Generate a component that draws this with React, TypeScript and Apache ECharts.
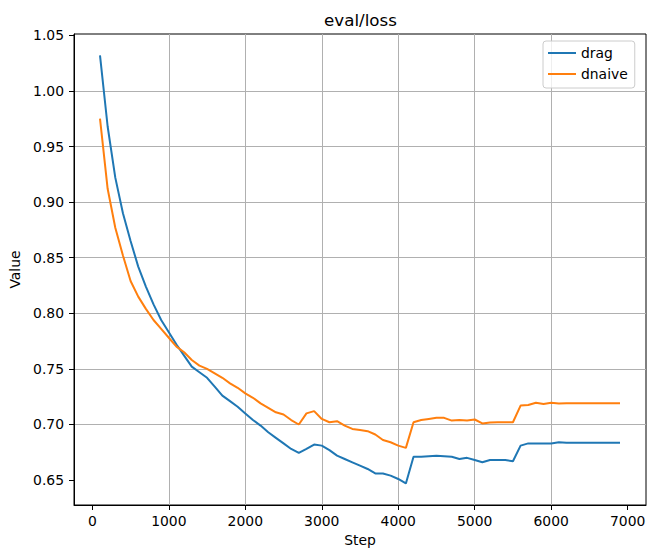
import React, { useEffect, useRef } from "react";
import * as echarts from "echarts";

const steps = [
  100, 200, 300, 400, 500, 600, 700, 800, 900, 1000,
  1100, 1200, 1300, 1400, 1500, 1600, 1700, 1800, 1900, 2000,
  2100, 2200, 2300, 2400, 2500, 2600, 2700, 2800, 2900, 3000,
  3100, 3200, 3300, 3400, 3500, 3600, 3700, 3800, 3900, 4000,
  4100, 4200, 4300, 4400, 4500, 4600, 4700, 4800, 4900, 5000,
  5100, 5200, 5300, 5400, 5500, 5600, 5700, 5800, 5900, 6000,
  6100, 6200, 6300, 6400, 6500, 6600, 6700, 6800, 6900,
];

const drag = [
  1.032, 0.968, 0.922, 0.890, 0.865, 0.842, 0.824, 0.808, 0.794, 0.783,
  0.772, 0.762, 0.752, 0.747, 0.742, 0.734, 0.726, 0.721, 0.716, 0.710,
  0.704, 0.699, 0.693, 0.688, 0.683, 0.678, 0.6745, 0.678, 0.682, 0.681,
  0.677, 0.672, 0.669, 0.666, 0.663, 0.660, 0.656, 0.656, 0.654, 0.651,
  0.647, 0.671, 0.671, 0.6715, 0.672, 0.6715, 0.671, 0.669, 0.670, 0.668,
  0.666, 0.668, 0.668, 0.668, 0.667, 0.681, 0.683, 0.683, 0.683, 0.683,
  0.684, 0.6835, 0.6835, 0.6835, 0.6835, 0.6835, 0.6835, 0.6835, 0.6835,
];

const dnaive = [
  0.975, 0.912, 0.877, 0.852, 0.829, 0.815, 0.804, 0.794, 0.786, 0.778,
  0.770, 0.765, 0.758, 0.753, 0.750, 0.746, 0.742, 0.737, 0.733, 0.728,
  0.724, 0.719, 0.715, 0.711, 0.709, 0.704, 0.700, 0.710, 0.712, 0.705,
  0.702, 0.703, 0.699, 0.696, 0.695, 0.694, 0.691, 0.686, 0.684, 0.681,
  0.679, 0.702, 0.704, 0.705, 0.706, 0.706, 0.7035, 0.704, 0.7035, 0.7045,
  0.701, 0.7018, 0.702, 0.702, 0.702, 0.717, 0.7175, 0.7195, 0.7185, 0.7195,
  0.7188, 0.719, 0.719, 0.719, 0.719, 0.719, 0.719, 0.719, 0.719,
];

const xTicks = [0, 1000, 2000, 3000, 4000, 5000, 6000, 7000];
const yTicks = [0.65, 0.7, 0.75, 0.8, 0.85, 0.9, 0.95, 1.0, 1.05];

const FONT = "DejaVu Sans";

export default function App() {
  const ref = useRef<HTMLDivElement>(null);
  useEffect(() => {
    if (!ref.current) return;
    const chart = echarts.init(ref.current, null, { renderer: "svg" });
    const axisCommon = {
      axisLine: { show: true, onZero: false, lineStyle: { color: "#000", width: 1 } },
      axisTick: { show: true, inside: false, length: 5, lineStyle: { color: "#000", width: 1 } },
      splitLine: {
        show: true,
        showMinLine: false,
        showMaxLine: false,
        lineStyle: { color: "#b0b0b0", width: 1 },
      },
      nameTextStyle: { fontFamily: FONT, fontSize: 13.9, color: "#000" },
    };
    chart.setOption({
      animation: false,
      backgroundColor: "#fff",
      grid: {
        left: 74,
        right: 2,
        top: 34,
        bottom: 47,
        show: true,
        borderColor: "#000",
        borderWidth: 1,
        backgroundColor: "transparent",
      },
      graphic: [
        {
          type: "text",
          x: 360.5,
          y: 20,
          style: {
            text: "eval/loss",
            fontFamily: FONT,
            fontSize: 16.7,
            fill: "#000",
            textAlign: "center",
            textVerticalAlign: "middle",
          },
        },
      ],
      legend: {
        data: ["drag", "dnaive"],
        orient: "vertical",
        left: 543,
        top: 41,
        padding: [5, 7, 7, 5],
        itemGap: 7,
        itemWidth: 28,
        itemHeight: 2,
        itemTextGap: 11,
        icon: "rect",
        selectedMode: false,
        backgroundColor: "rgba(255,255,255,0.8)",
        borderColor: "#cccccc",
        borderWidth: 1,
        borderRadius: 3,
        textStyle: { fontFamily: FONT, fontSize: 13.9, color: "#000", lineHeight: 14 },
      },
      xAxis: {
        type: "value",
        min: -240,
        max: 7240,
        splitNumber: 7,
        name: "Step",
        nameLocation: "middle",
        nameGap: 27,
        ...axisCommon,
        axisTick: { ...axisCommon.axisTick, customValues: xTicks },
        axisLabel: {
          margin: 9,
          fontFamily: FONT,
          fontSize: 13.9,
          color: "#000",
          formatter: (v: number) =>
            Math.abs(v / 1000 - Math.round(v / 1000)) < 1e-6 ? String(Math.round(v)) : "",
        },
      },
      yAxis: {
        type: "value",
        min: 0.6276,
        max: 1.0512,
        splitNumber: 8,
        name: "Value",
        nameLocation: "middle",
        nameGap: 45,
        ...axisCommon,
        axisTick: { ...axisCommon.axisTick, customValues: yTicks },
        axisLabel: {
          margin: 10,
          fontFamily: FONT,
          fontSize: 13.9,
          color: "#000",
          formatter: (v: number) =>
            Math.abs(v * 20 - Math.round(v * 20)) < 1e-6 ? v.toFixed(2) : "",
        },
      },
      series: [
        {
          name: "drag",
          type: "line",
          data: steps.map((s, i) => [s, drag[i]]),
          symbol: "none",
          color: "#1f77b4",
          lineStyle: { width: 2, color: "#1f77b4" },
          z: 3,
        },
        {
          name: "dnaive",
          type: "line",
          data: steps.map((s, i) => [s, dnaive[i]]),
          symbol: "none",
          color: "#ff7f0e",
          lineStyle: { width: 2, color: "#ff7f0e" },
          z: 4,
        },
      ],
    });
    return () => chart.dispose();
  }, []);
  return (
    <div
      ref={ref}
      style={{ position: "absolute", left: 0, top: 0, width: 649, height: 552, background: "#fff" }}
    />
  );
}
